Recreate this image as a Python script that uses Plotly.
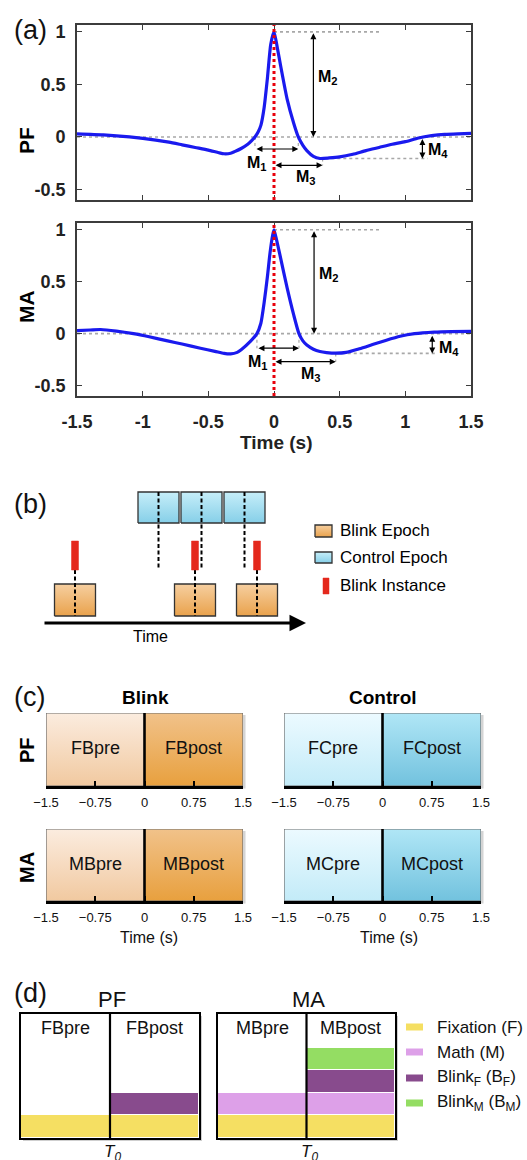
import plotly.graph_objects as go

W, H = 527, 1160
def X(px): return px / W
def Y(py): return 1 - py / H

FONT = "Liberation Sans"

# ---------------- Panel (a) data ----------------
t_pf = [-1.5, -1.3, -1.1, -0.9, -0.8, -0.7, -0.6, -0.5, -0.42, -0.38, -0.33, -0.3, -0.25, -0.2, -0.17,
        -0.145, -0.12, -0.1, -0.075, -0.05, -0.025, 0.0, 0.025, 0.05, 0.1, 0.15, 0.185, 0.22, 0.25,
        0.3, 0.35, 0.42, 0.5, 0.6, 0.7, 0.8, 0.9, 1.0, 1.1, 1.2, 1.3, 1.4, 1.5]
pf = [0.03, 0.02, 0.0, -0.03, -0.05, -0.075, -0.1, -0.125, -0.15, -0.16, -0.155, -0.14, -0.11, -0.07, -0.035,
      0.0, 0.05, 0.11, 0.28, 0.56, 0.88, 1.0, 0.85, 0.68, 0.36, 0.13, 0.0, -0.08, -0.13,
      -0.185, -0.205, -0.2, -0.19, -0.165, -0.13, -0.1, -0.07, -0.045, -0.01, 0.012, 0.025, 0.03, 0.033]

t_ma = [-1.5, -1.4, -1.32, -1.2, -1.07, -0.95, -0.81, -0.7, -0.56, -0.45, -0.38, -0.33, -0.28, -0.25,
        -0.18, -0.13, -0.1, -0.075, -0.05, -0.03, -0.01, 0.0, 0.02, 0.05, 0.1, 0.15, 0.19, 0.22, 0.25,
        0.3, 0.35, 0.4, 0.47, 0.55, 0.65, 0.75, 0.85, 0.96, 1.07, 1.22, 1.35, 1.5]
ma = [0.03, 0.035, 0.04, 0.025, 0.0, -0.03, -0.07, -0.1, -0.14, -0.17, -0.19, -0.195, -0.18, -0.155,
      -0.075, 0.0, 0.1, 0.3, 0.55, 0.78, 0.95, 1.0, 0.9, 0.73, 0.44, 0.18, 0.0, -0.07, -0.11,
      -0.15, -0.172, -0.182, -0.188, -0.18, -0.145, -0.105, -0.065, -0.025, 0.0, 0.015, 0.02, 0.022]

a_xticks = [-1.5, -1, -0.5, 0, 0.5, 1, 1.5]
a_xlabels = ["-1.5", "-1", "-0.5", "0", "0.5", "1", "1.5"]
a_yticks = [-0.5, 0, 0.5, 1]
a_ylabels = ["-0.5", "0", "0.5", "1"]

pf_meas = dict(c0=-0.145, c1=0.185, m1y=-0.115, m3x=0.37, m3y=-0.27, m2x=0.30, trough=-0.205,
               trough_x=0.345, m4x=1.13, peak_end=0.81, trough_end=1.17)
ma_meas = dict(c0=-0.13, c1=0.19, m1y=-0.14, m3x=0.47, m3y=-0.27, m2x=0.305, trough=-0.19,
               trough_x=0.47, m4x=1.205, peak_end=0.80, trough_end=1.23)
pf_labels = dict(M1=(-0.13, -0.255), M3=(0.245, -0.39), M2=(0.41, 0.57), M4=(1.25, -0.13))
ma_labels = dict(M1=(-0.12, -0.275), M3=(0.28, -0.395), M2=(0.42, 0.565), M4=(1.33, -0.14))

# ---------------- Panel (b) schematic data (schematic units) ----------------
blink_times = [75, 195, 257]
epoch_width = 41
control_starts = [138, 181, 224]
ctrl_y = (127, 158)
blink_y = (34, 66)
bar_y = (80, 109)
bar_w = 7
time_axis = (43, 306, 27)

# ---------------- Panel (c) ----------------
c_ticks = [-1.5, -0.75, 0, 0.75, 1.5]
c_ticklabels = ["\u22121.5", "\u22120.75", "0", "0.75", "1.5"]
c_names = {"PF_blink": ("FBpre", "FBpost"), "PF_ctrl": ("FCpre", "FCpost"),
           "MA_blink": ("MBpre", "MBpost"), "MA_ctrl": ("MCpre", "MCpost")}

# ---------------- Panel (d) ----------------
d_x = [0, 1]
pf_fix = [1, 1]
pf_bf = [0, 1]
ma_fix = [1, 1]
ma_math = [1, 1]
ma_bf = [0, 1]
ma_bm = [0, 1]
d_legend = ["Fixation (F)", "Math (M)", "Blink<sub>F</sub> (B<sub>F</sub>)", "Blink<sub>M</sub> (B<sub>M</sub>)"]
COL_F, COL_M, COL_BF, COL_BM = "#f5df62", "#dda0e8", "#884b8d", "#94dd63"

fig = go.Figure()
shapes = []
ann = []

def txt(text, x, y, xref="paper", yref="paper", size=17, color="#111", xanchor="center", yanchor="middle", **kw):
    d = dict(text=text, x=x, y=y, xref=xref, yref=yref, showarrow=False, xanchor=xanchor, yanchor=yanchor,
             font=dict(family=FONT, size=size, color=color))
    d.update(kw)
    ann.append(d)

# ===== Panel (a) =====
BLUE = "#1a1aee"
for idx, (tt, vv, meas, labs) in enumerate([(t_pf, pf, pf_meas, pf_labels), (t_ma, ma, ma_meas, ma_labels)]):
    xa = "x" if idx == 0 else "x2"
    ya = "y" if idx == 0 else "y2"
    gl = dict(color="#a8a8a8", width=1.6, dash="dot")
    fig.add_trace(go.Scatter(x=[-1.5, 1.5], y=[0, 0], mode="lines", line=gl, xaxis=xa, yaxis=ya, hoverinfo="skip"))
    fig.add_trace(go.Scatter(x=[0, meas["peak_end"]], y=[1, 1], mode="lines", line=gl, xaxis=xa, yaxis=ya, hoverinfo="skip"))
    fig.add_trace(go.Scatter(x=[meas["trough_x"], meas["trough_end"]], y=[meas["trough"]] * 2, mode="lines", line=gl,
                             xaxis=xa, yaxis=ya, hoverinfo="skip"))
    for cx in (meas["c0"], meas["c1"]):
        fig.add_trace(go.Scatter(x=[cx, cx], y=[0, meas["m1y"]], mode="lines", line=dict(color="#a8a8a8", width=1.2, dash="dot"),
                                 xaxis=xa, yaxis=ya, hoverinfo="skip"))
    fig.add_trace(go.Scatter(x=[meas["m3x"], meas["m3x"]], y=[meas["trough"], meas["m3y"]], mode="lines",
                             line=dict(color="#a8a8a8", width=1.2, dash="dot"), xaxis=xa, yaxis=ya, hoverinfo="skip"))
    fig.add_trace(go.Scatter(x=tt, y=vv, mode="lines", line=dict(color=BLUE, width=3.2, shape="spline", smoothing=0.6),
                             xaxis=xa, yaxis=ya, hoverinfo="skip"))
    shapes.append(dict(type="line", xref=xa, yref=ya + " domain", x0=0, x1=0, y0=0, y1=1,
                       line=dict(color="#e8000b", width=3, dash="dot"), layer="above"))
    arrow = dict(showarrow=True, arrowhead=2, startarrowhead=2, arrowside="end+start", arrowsize=1,
                 startarrowsize=1, arrowwidth=1.2, arrowcolor="black", text="", xref=xa, yref=ya,
                 axref=xa, ayref=ya)
    ann.append(dict(arrow, x=meas["c1"], y=meas["m1y"], ax=meas["c0"], ay=meas["m1y"]))
    ann.append(dict(arrow, x=meas["m3x"], y=meas["m3y"], ax=0, ay=meas["m3y"]))
    ann.append(dict(arrow, x=meas["m2x"], y=0, ax=meas["m2x"], ay=1))
    ann.append(dict(arrow, x=meas["m4x"], y=meas["trough"], ax=meas["m4x"], ay=-0.005))
    for k, (lx, ly) in labs.items():
        txt("<b>M<sub>%s</sub></b>" % k[1], lx, ly, xref=xa, yref=ya, size=16, color="black")

axis_a = dict(range=[-1.5, 1.5], showgrid=False, zeroline=False, showline=True, mirror="ticks",
              linecolor="#3c3c3c", linewidth=1.6, ticks="inside", ticklen=5, tickwidth=1.3, tickcolor="#3c3c3c",
              tickvals=a_xticks, ticktext=a_xlabels, fixedrange=True, automargin=False,
              tickfont=dict(family=FONT, size=18, color="#222", weight="bold"))
axis_ay = dict(axis_a, range=[-0.6, 1.065], tickvals=a_yticks, ticktext=a_ylabels, ticklabelstandoff=6)

layout = dict(
    xaxis=dict(axis_a, domain=[X(77), X(471)], anchor="y", showticklabels=False),
    yaxis=dict(axis_ay, domain=[Y(200), Y(25)], anchor="x"),
    xaxis2=dict(axis_a, domain=[X(77), X(471)], anchor="y2", ticklabelstandoff=9),
    yaxis2=dict(axis_ay, domain=[Y(396), Y(223)], anchor="x2"),
)
txt("<b>PF</b>", X(26), Y(141), size=21, color="black", textangle=-90)
txt("<b>MA</b>", X(26), Y(307), size=21, color="black", textangle=-90)
txt("<b>Time (s)</b>", X(276), Y(442), size=19, color="#222")

# ===== Panel (b) =====
ORANGE_GRAD = [[0, "#e9a24c"], [1, "#f6cfa0"]]
BLUE_GRAD = [[0, "#86cfe8"], [1, "#c6eef9"]]
RED = "#e4281c"

def rect_trace(x0, x1, y0, y1, grad, xa, ya, line_color="#333", line_w=1.3, fillcolor=None):
    kw = dict(x=[x0, x1, x1, x0, x0], y=[y0, y0, y1, y1, y0], mode="lines", fill="toself",
              line=dict(color=line_color, width=line_w), xaxis=xa, yaxis=ya, hoverinfo="skip")
    if grad is not None:
        kw["fillgradient"] = dict(type="vertical", colorscale=grad)
    else:
        kw["fillcolor"] = fillcolor
    return go.Scatter(**kw)

dash_line = dict(color="black", width=2, dash="4px,2.5px")
for s in control_starts:
    fig.add_trace(rect_trace(s, s + epoch_width, ctrl_y[0], ctrl_y[1], BLUE_GRAD, "x3", "y3"))
for s in control_starts:
    c = s + epoch_width / 2
    fig.add_trace(go.Scatter(x=[c, c], y=[ctrl_y[1], bar_y[0]], mode="lines", line=dash_line,
                             xaxis="x3", yaxis="y3", hoverinfo="skip"))
for b in blink_times:
    fig.add_trace(rect_trace(b - epoch_width / 2, b + epoch_width / 2, blink_y[0], blink_y[1], ORANGE_GRAD, "x3", "y3"))
    fig.add_trace(go.Scatter(x=[b, b], y=[bar_y[0], blink_y[0]], mode="lines", line=dash_line,
                             xaxis="x3", yaxis="y3", hoverinfo="skip"))
    fig.add_trace(rect_trace(b - bar_w / 2, b + bar_w / 2, bar_y[0], bar_y[1], None, "x3", "y3",
                             line_color=RED, line_w=0.5, fillcolor=RED))
ann.append(dict(x=time_axis[1], y=time_axis[2], ax=time_axis[0], ay=time_axis[2], xref="x3", yref="y3",
                axref="x3", ayref="y3", showarrow=True, arrowhead=2, arrowsize=1.1, arrowwidth=3,
                arrowcolor="black", text=""))
txt("Time", 150, 14, xref="x3", yref="y3", size=16, color="black")
fig.add_trace(rect_trace(315, 332, 113, 125, ORANGE_GRAD, "x3", "y3"))
fig.add_trace(rect_trace(315, 332, 87, 98, BLUE_GRAD, "x3", "y3"))
fig.add_trace(rect_trace(323, 329, 56, 72, None, "x3", "y3", line_color=RED, line_w=0.5, fillcolor=RED))
for t_, yy in [("Blink Epoch", 120), ("Control Epoch", 93), ("Blink Instance", 65)]:
    txt(t_, 338, yy, xref="x3", yref="y3", xanchor="left", size=17, color="black")
layout["xaxis3"] = dict(domain=[0, 1], range=[0, 527], visible=False, fixedrange=True, anchor="y3", automargin=False)
layout["yaxis3"] = dict(domain=[Y(650), Y(470)], range=[0, 180], visible=False, fixedrange=True, anchor="x3", automargin=False)

# ===== Panel (c) =====
c_panels = [
    ("PF_blink", 46, 243, 713, 786, [[0, "#f1c9a0"], [1, "#fbecdf"]], [[0, "#e8a03e"], [1, "#f1c28a"]]),
    ("PF_ctrl", 284, 481, 713, 786, [[0, "#c3ebf8"], [1, "#ecfaff"]], [[0, "#72c2de"], [1, "#b0e6f6"]]),
    ("MA_blink", 46, 243, 829, 901, [[0, "#f1c9a0"], [1, "#fbecdf"]], [[0, "#e8a03e"], [1, "#f1c28a"]]),
    ("MA_ctrl", 284, 481, 829, 901, [[0, "#c3ebf8"], [1, "#ecfaff"]], [[0, "#72c2de"], [1, "#b0e6f6"]]),
]
for i, (key, x0, x1, y0, y1, g_pre, g_post) in enumerate(c_panels):
    n = 4 + i
    xa, ya = "x%d" % n, "y%d" % n
    shapes.append(dict(type="rect", xref="paper", yref="paper", x0=X(x0 + 2), x1=X(x1 + 2.5), y0=Y(y1 + 2.5), y1=Y(y0 + 2),
                       fillcolor="#d4d4d4", line=dict(width=0), layer="below"))
    fig.add_trace(rect_trace(-1.5, 0, 0, 1, g_pre, xa, ya, line_w=0))
    fig.add_trace(rect_trace(0, 1.5, 0, 1, g_post, xa, ya, line_w=0))
    fig.add_trace(go.Scatter(x=[-1.5, 1.5, 1.5, -1.5, -1.5], y=[0, 0, 1, 1, 0], mode="lines",
                             line=dict(color="#6a6a6a", width=1.2), xaxis=xa, yaxis=ya, hoverinfo="skip"))
    shapes.append(dict(type="line", xref=xa, yref=ya, x0=0, x1=0, y0=0, y1=1,
                       line=dict(color="black", width=2.6), layer="above"))
    pre, post = c_names[key]
    for t_, xx in [(pre, -0.75), (post, 0.75)]:
        txt(t_, xx, 0.52, xref=xa, yref=ya, size=18)
    layout["xaxis%d" % n] = dict(domain=[X(x0), X(x1)], range=[-1.5, 1.5], anchor=ya, showgrid=False,
                                 zeroline=False, showline=True, linecolor="black", linewidth=2.6,
                                 ticks="inside", ticklen=5, tickwidth=2.2, tickcolor="black",
                                 tickvals=c_ticks, ticktext=c_ticklabels, ticklabelstandoff=3, automargin=False,
                                 tickfont=dict(family=FONT, size=13, color="#111"), fixedrange=True)
    layout["yaxis%d" % n] = dict(domain=[Y(y1), Y(y0)], range=[0, 1], visible=False, fixedrange=True, anchor=xa,
                                 automargin=False)

txt("<b>Blink</b>", X(145), Y(697), size=19, color="black")
txt("<b>Control</b>", X(383), Y(697), size=19, color="black")
txt("<b>PF</b>", X(27), Y(750), size=20, color="black", textangle=-90)
txt("<b>MA</b>", X(27), Y(868), size=20, color="black", textangle=-90)
for xx in (149, 389):
    txt("Time (s)", X(xx), Y(937), size=16)

# ===== Panel (d) =====
def bar(yv, col, xa, ya):
    return go.Bar(x=d_x, y=yv, width=1, marker=dict(color=col, line=dict(color="white", width=1.4)),
                  xaxis=xa, yaxis=ya, hoverinfo="skip")

fig.add_trace(bar(pf_fix, COL_F, "x8", "y8"))
fig.add_trace(bar(pf_bf, COL_BF, "x8", "y8"))
fig.add_trace(bar(ma_fix, COL_F, "x9", "y9"))
fig.add_trace(bar(ma_math, COL_M, "x9", "y9"))
fig.add_trace(bar(ma_bf, COL_BF, "x9", "y9"))
fig.add_trace(bar(ma_bm, COL_BM, "x9", "y9"))

d_panels = [("x8", "y8", 21, 199, 109, ("FBpre", "FBpost"), "PF"),
            ("x9", "y9", 218, 395, 306, ("MBpre", "MBpost"), "MA")]
for xa, ya, x0, x1, xdiv, names, title in d_panels:
    n = xa[1:]
    shapes.append(dict(type="rect", xref="paper", yref="paper", x0=X(x0 + 2), x1=X(x1 + 3), y0=Y(1141), y1=Y(1016),
                       fillcolor="#cfcfcf", line=dict(width=0), layer="below"))
    layout["xaxis" + n] = dict(domain=[X(x0), X(x1)], range=[-0.5, 1.5], anchor=ya, showgrid=False, zeroline=False,
                               showline=True, mirror=True, linecolor="black", linewidth=2.2, showticklabels=False,
                               ticks="", fixedrange=True, automargin=False)
    layout["yaxis" + n] = dict(domain=[Y(1138), Y(1014)], range=[0, 5.5], anchor=xa, showgrid=False, zeroline=False,
                               showline=True, mirror=True, linecolor="black", linewidth=2.2, showticklabels=False,
                               ticks="", fixedrange=True, automargin=False)
    shapes.append(dict(type="rect", xref=xa, yref=ya, x0=-0.5, x1=1.5, y0=0, y1=5.5,
                       fillcolor="white", line=dict(width=0), layer="below"))
    shapes.append(dict(type="line", xref=xa, yref=ya, x0=0.5, x1=0.5, y0=0, y1=5.5,
                       line=dict(color="black", width=2.2), layer="above"))
    for t_, xx in zip(names, d_x):
        txt(t_, xx, 4.88, xref=xa, yref=ya, size=18)
    txt("<i>T<sub>0</sub></i>", X(xdiv + 3), Y(1153), size=17)
    txt(title, X((x0 + x1) / 2 + 2), Y(1000), size=22)

for (t_, col, yy) in zip(d_legend, [COL_F, COL_M, COL_BF, COL_BM], [1027, 1052, 1078, 1103]):
    shapes.append(dict(type="rect", xref="paper", yref="paper", x0=X(406), x1=X(423), y0=Y(yy + 3.5), y1=Y(yy - 3.5),
                       fillcolor=col, line=dict(width=0)))
    txt(t_, X(435), Y(yy), xanchor="left", size=17)

for t_, yy in [("(a)", 30), ("(b)", 504), ("(c)", 697), ("(d)", 993)]:
    txt(t_, X(12), Y(yy), xanchor="left", size=27)

fig.update_layout(**layout)
fig.update_layout(template="none", width=W, height=H, margin=dict(l=0, r=0, t=0, b=0, autoexpand=False),
                  paper_bgcolor="white", plot_bgcolor="rgba(0,0,0,0)", showlegend=False, barmode="stack", bargap=0,
                  shapes=shapes, annotations=ann, font=dict(family=FONT))
fig.write_html("out.html")
